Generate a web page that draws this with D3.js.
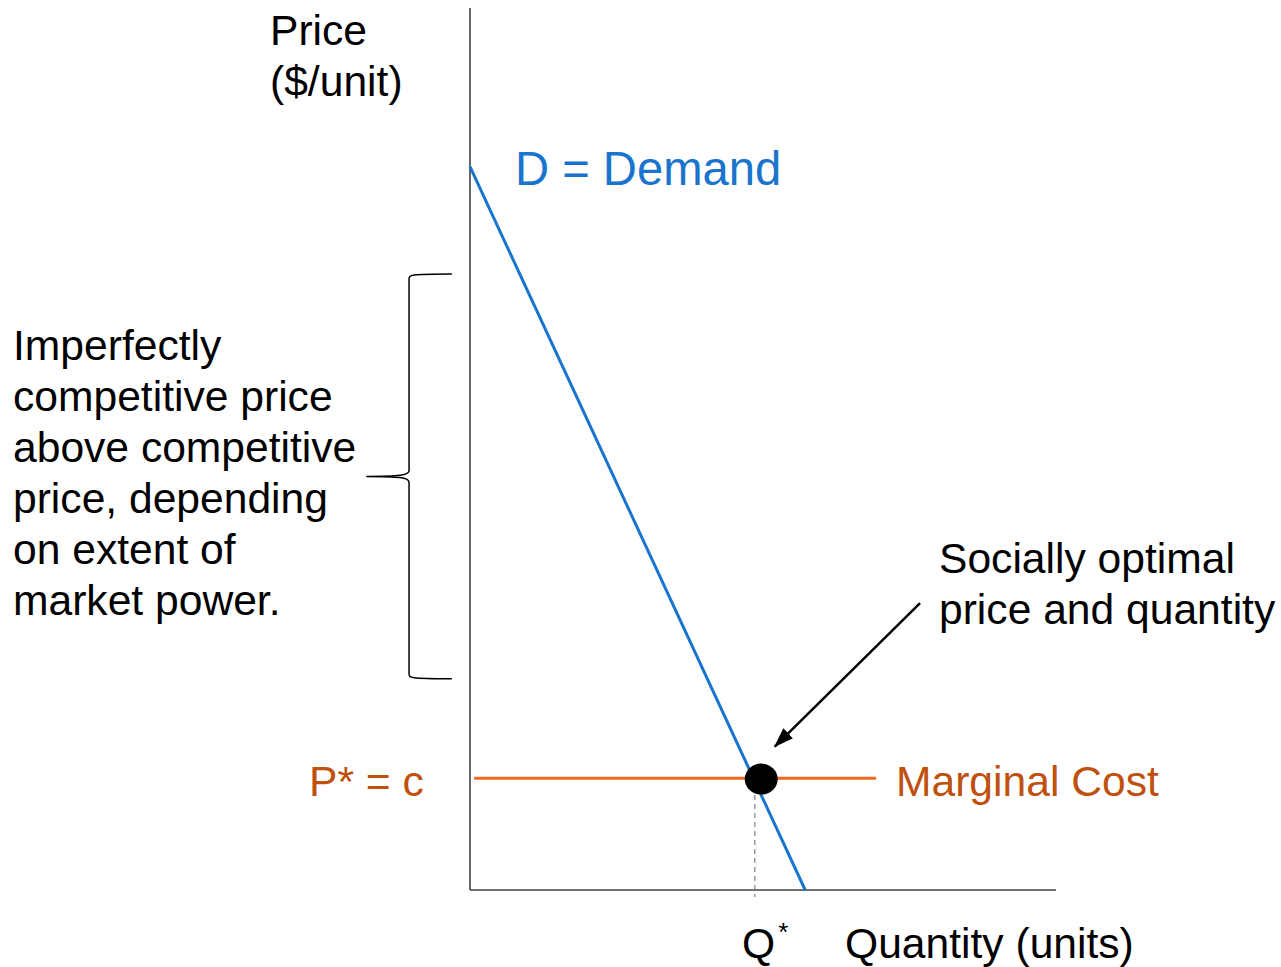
<!DOCTYPE html>
<html>
<head>
<meta charset="utf-8">
<script src="https://cdn.jsdelivr.net/npm/d3@7"></script>
<style>
  body { margin: 0; background: #fff; }
  text { font-family: "Liberation Sans", Arial, sans-serif; }
</style>
</head>
<body>
<div id="chart"></div>
<script>
// data (quantity 0-100, price 0-100)
const demand = [{q: 0, p: 82.2}, {q: 57.2, p: 0}]
const marginalCost = [{q: 0.7, p: 12.7}, {q: 69.3, p: 12.7}]
const optimum = {q: 49.7, p: 12.6}
const qStar = 48.6
const brace = {top: 70, mid: 47, bottom: 24, end: -3.1, spine: -10.4, tip: -17.7}
const arrow = [{q: 76.8, p: 32.6}, {q: 52.0, p: 16.3}]
const leftNote = ["Imperfectly", "competitive price", "above competitive", "price, depending", "on extent of", "market power."]
const rightNote = ["Socially optimal", "price and quantity"]

const width = 1281, height = 967

const svg = d3.select('#chart').append('svg')
    .attr('width', width)
    .attr('height', height)

//scales
const xScale = d3.scaleLinear().domain([0, 100]).range([470, 1056])
const yScale = d3.scaleLinear().domain([0, 100]).range([890, 10])

const blue = '#1874CD'
const orange = '#F26A1F'
const brown = '#C0500E'

svg.append('defs').append('marker')
    .attr('id', 'head')
    .attr('viewBox', '0 0 20 14')
    .attr('refX', 19).attr('refY', 7)
    .attr('markerWidth', 20).attr('markerHeight', 14)
    .attr('markerUnits', 'userSpaceOnUse')
    .attr('orient', 'auto')
    .append('path')
    .attr('d', 'M0,0 L20,7 L0,14 Z')
    .attr('fill', 'black')

//axes (plain lines, no ticks)
svg.append('line')
    .attr('x1', xScale(0)).attr('x2', xScale(0))
    .attr('y1', yScale(100) - 2).attr('y2', yScale(0))
    .attr('stroke', '#404040').attr('stroke-width', 1.6)
svg.append('line')
    .attr('x1', xScale(0)).attr('x2', xScale(100))
    .attr('y1', yScale(0)).attr('y2', yScale(0))
    .attr('stroke', '#404040').attr('stroke-width', 1.6)

const line = d3.line().x(d => xScale(d.q)).y(d => yScale(d.p))

// dashed drop line to Q*
svg.append('line')
    .attr('x1', xScale(qStar)).attr('x2', xScale(qStar))
    .attr('y1', yScale(optimum.p) + 16).attr('y2', yScale(0) + 7)
    .attr('stroke', '#808080').attr('stroke-width', 1.2)
    .attr('stroke-dasharray', '5,4')

svg.append('path')
    .attr('d', line(marginalCost))
    .attr('fill', 'none').attr('stroke', orange).attr('stroke-width', 3)

svg.append('path')
    .attr('d', line(demand))
    .attr('fill', 'none').attr('stroke', blue).attr('stroke-width', 3)

svg.append('ellipse')
    .attr('cx', xScale(optimum.q)).attr('cy', yScale(optimum.p))
    .attr('rx', 16.5).attr('ry', 15.5)
    .attr('fill', 'black')

// arrow
svg.append('path')
    .attr('d', line(arrow))
    .attr('stroke', 'black').attr('stroke-width', 2.5)
    .attr('marker-end', 'url(#head)')

// brace
const bx = v => xScale(v), by = v => yScale(v)
const r = 6
const bracePath = d3.path()
bracePath.moveTo(bx(brace.end), by(brace.top))
bracePath.bezierCurveTo(bx(brace.spine) - 2, by(brace.top), bx(brace.spine), by(brace.top) + 1, bx(brace.spine), by(brace.top) + r)
bracePath.lineTo(bx(brace.spine), by(brace.mid) - r)
bracePath.bezierCurveTo(bx(brace.spine), by(brace.mid) - 1, bx(brace.spine) - 10, by(brace.mid), bx(brace.tip), by(brace.mid))
bracePath.bezierCurveTo(bx(brace.spine) - 10, by(brace.mid), bx(brace.spine), by(brace.mid) + 1, bx(brace.spine), by(brace.mid) + r)
bracePath.lineTo(bx(brace.spine), by(brace.bottom) - r)
bracePath.bezierCurveTo(bx(brace.spine), by(brace.bottom) - 1, bx(brace.spine) - 2, by(brace.bottom), bx(brace.end), by(brace.bottom))
svg.append('path')
    .attr('d', bracePath.toString())
    .attr('fill', 'none').attr('stroke', 'black').attr('stroke-width', 1.5)

// labels
const fs = 42.6
const label = (x, y, t, opts = {}) => svg.append('text')
    .attr('x', x).attr('y', y)
    .attr('font-size', opts.size || fs)
    .attr('fill', opts.color || 'black')
    .text(t)

label(270, 45, 'Price')
label(270, 96, '($/unit)')
label(515, 185, 'D = Demand', {size: 47.2, color: blue})
label(309, 796, 'P* = c', {color: brown})
label(896, 796, 'Marginal Cost', {color: brown})

svg.selectAll('.left')
    .data(leftNote)
    .join('text')
    .attr('x', 13)
    .attr('y', (d, i) => 360 + i * 51)
    .attr('font-size', fs)
    .text(d => d)

svg.selectAll('.right')
    .data(rightNote)
    .join('text')
    .attr('x', 939)
    .attr('y', (d, i) => 573 + i * 51)
    .attr('font-size', fs)
    .text(d => d)

const q = label(742, 958, 'Q')
q.append('tspan').attr('font-size', 26).attr('dx', 3).attr('dy', -17).text('*')
label(845, 958, 'Quantity (units)')
</script>
</body>
</html>
